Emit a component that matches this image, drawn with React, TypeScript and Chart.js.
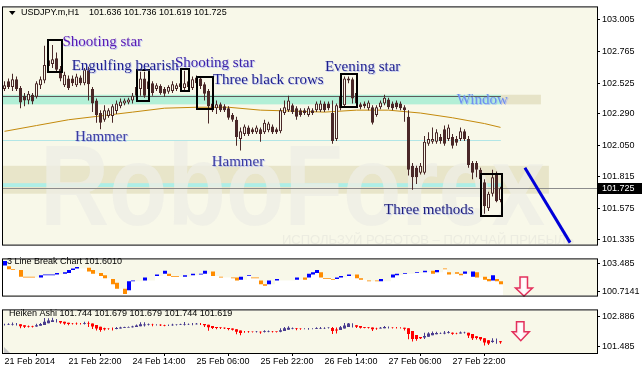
import React, { useEffect, useRef } from "react";
import { Chart, registerables } from "chart.js";

Chart.register(...registerables);

const SANS = "'Liberation Sans', Arial, sans-serif";
const SERIF = "'Liberation Serif', 'Times New Roman', serif";
const CREAM = "#f8f8e9";
const CANDLE = "#4a2828";
Chart.defaults.font.family = SANS;

const symbolTitle = "USDJPY.m,H1";
const ohlcTitle = "101.636 101.736 101.619 101.725";
const lbTitle = "3 Line Break Chart 101.6010";
const haTitle = "Heiken Ashi 101.744 101.679 101.679 101.744 101.619";

const opens = [102.480,102.538,102.494,102.553,102.487,102.429,102.392,102.436,102.421,102.509,102.545,102.655,102.669,102.713,102.633,102.509,102.560,102.560,102.509,102.567,102.523,102.626,102.480,102.392,102.297,102.246,102.275,102.275,102.312,102.348,102.370,102.377,102.392,102.429,102.480,102.560,102.538,102.523,102.480,102.502,102.480,102.458,102.465,102.480,102.494,102.487,102.538,102.487,102.567,102.560,102.516,102.465,102.370,102.334,102.363,102.348,102.334,102.283,102.246,102.100,102.137,102.188,102.173,102.151,102.173,102.151,102.166,102.195,102.173,102.158,102.297,102.319,102.356,102.334,102.319,102.319,102.283,102.319,102.319,102.319,102.370,102.370,102.297,102.100,102.334,102.356,102.545,102.553,102.450,102.363,102.370,102.334,102.341,102.283,102.341,102.370,102.399,102.370,102.377,102.370,102.341,102.268,101.896,101.881,101.844,101.844,102.064,102.078,102.078,102.115,102.173,102.100,102.115,102.100,102.100,102.158,102.100,101.917,101.917,101.866,101.771,101.574,101.684,101.837,101.636];
const highs = [102.538,102.560,102.596,102.575,102.502,102.450,102.465,102.450,102.538,102.575,102.808,102.794,102.815,102.757,102.655,102.611,102.582,102.582,102.596,102.582,102.640,102.648,102.494,102.407,102.319,102.356,102.334,102.363,102.392,102.407,102.407,102.414,102.450,102.509,102.611,102.611,102.553,102.538,102.523,102.516,102.494,102.509,102.538,102.523,102.538,102.618,102.553,102.575,102.582,102.575,102.531,102.480,102.392,102.392,102.377,102.363,102.348,102.297,102.268,102.188,102.210,102.202,102.188,102.202,102.188,102.246,102.231,102.210,102.188,102.334,102.392,102.429,102.370,102.348,102.334,102.334,102.348,102.334,102.385,102.392,102.385,102.385,102.392,102.370,102.443,102.575,102.575,102.567,102.465,102.377,102.385,102.392,102.356,102.356,102.392,102.436,102.414,102.385,102.392,102.385,102.356,102.319,101.917,101.896,101.917,102.122,102.151,102.188,102.173,102.137,102.202,102.210,102.137,102.122,102.188,102.173,102.122,101.932,101.932,101.881,101.793,101.698,101.866,101.852,101.736];
const lows = [102.465,102.480,102.465,102.465,102.334,102.348,102.363,102.363,102.407,102.480,102.523,102.640,102.640,102.604,102.538,102.494,102.472,102.502,102.494,102.509,102.509,102.392,102.304,102.224,102.173,102.231,102.261,102.224,102.290,102.334,102.356,102.363,102.370,102.407,102.429,102.414,102.465,102.429,102.465,102.436,102.421,102.443,102.450,102.465,102.480,102.465,102.480,102.472,102.509,102.480,102.392,102.217,102.304,102.290,102.304,102.304,102.246,102.231,102.049,102.012,102.122,102.122,102.137,102.137,102.078,102.137,102.151,102.137,102.137,102.144,102.283,102.304,102.290,102.246,102.268,102.283,102.268,102.283,102.304,102.304,102.304,102.319,102.064,102.085,102.319,102.341,102.523,102.370,102.348,102.326,102.334,102.319,102.210,102.268,102.326,102.356,102.326,102.319,102.326,102.319,102.231,101.823,101.713,101.757,101.830,101.830,102.049,102.064,102.064,102.064,102.049,102.085,102.027,102.049,102.085,102.085,101.881,101.793,101.808,101.757,101.531,101.553,101.662,101.618,101.619];
const closes = [102.509,102.494,102.553,102.480,102.377,102.392,102.443,102.385,102.523,102.553,102.662,102.699,102.706,102.626,102.560,102.589,102.487,102.523,102.575,102.523,102.626,102.516,102.370,102.283,102.224,102.319,102.319,102.348,102.370,102.385,102.392,102.399,102.429,102.494,102.560,102.429,102.480,102.450,102.509,102.450,102.443,102.494,102.516,102.509,102.523,102.523,102.494,102.553,102.523,102.502,102.443,102.348,102.319,102.363,102.319,102.319,102.261,102.246,102.115,102.158,102.195,102.137,102.151,102.188,102.137,102.224,102.217,102.151,102.151,102.319,102.341,102.392,102.304,102.268,102.283,102.297,102.334,102.297,102.370,102.370,102.319,102.334,102.085,102.356,102.429,102.560,102.560,102.407,102.370,102.341,102.348,102.377,102.224,102.341,102.377,102.414,102.341,102.334,102.341,102.334,102.319,101.866,101.808,101.808,101.896,102.078,102.100,102.100,102.151,102.085,102.064,102.188,102.049,102.071,102.158,102.100,101.903,101.844,101.866,101.793,101.589,101.684,101.808,101.626,101.725];

const maBars = [0, 8, 16, 24, 32, 40, 48, 56, 64, 72, 80, 88, 96, 104, 112, 120, 124];
const maValues = [102.158, 102.202, 102.246, 102.275, 102.304, 102.334, 102.341, 102.341, 102.319, 102.312, 102.304, 102.319, 102.319, 102.297, 102.261, 102.217, 102.188];

const trendBars = [130.1, 141.4];
const trendValues = [101.881, 101.312];

const priceTicks = [103.005, 102.765, 102.525, 102.29, 102.05, 101.815, 101.575, 101.335];
const lastPrice = 101.725;

const timeLabels = ["21 Feb 2014", "21 Feb 22:00", "24 Feb 14:00", "25 Feb 06:00", "25 Feb 22:00", "26 Feb 14:00", "27 Feb 06:00", "27 Feb 22:00"];
const timeLabelBars = [0, 16, 32, 48, 64, 80, 96, 112];

const lbOpen = [103.335,103.260,102.961,null,102.886,102.212,102.212,102.212,null,102.137,102.362,102.362,102.362,102.437,null,102.511,102.586,102.886,103.036,null,null,103.111,102.886,null,102.586,102.362,null,101.987,101.613,null,101.014,100.864,101.762,null,null,101.837,null,null,102.287,null,102.511,102.511,102.287,102.287,null,102.212,null,102.362,null,102.437,102.511,null,102.736,null,102.212,null,null,102.137,102.137,101.912,null,102.287,102.137,102.137,101.837,101.463,101.463,null,101.837,null,null,null,null,101.912,null,102.137,102.137,102.437,102.586,102.661,102.062,102.062,101.987,101.987,102.137,null,102.287,null,102.437,102.062,null,101.837,null,101.837,101.762,null,null,102.137,102.362,null,102.511,null,null,102.586,null,102.661,null,102.811,102.661,null,103.036,102.661,null,102.661,102.511,102.511,null,102.212,102.661,null,102.212,101.987,101.837,101.987,101.762];
const lbClose = [103.785,102.961,102.886,null,102.212,102.137,102.137,102.137,null,102.362,102.437,102.437,102.437,102.586,null,102.661,102.886,103.036,103.186,null,null,102.736,102.511,null,102.287,102.062,null,101.463,101.014,null,100.490,101.762,101.837,null,null,102.137,null,null,102.437,null,102.811,102.287,102.212,102.212,null,102.362,null,102.511,null,102.511,102.811,null,102.287,null,102.137,null,null,102.062,101.837,102.212,null,102.362,102.062,102.062,101.463,101.313,101.837,null,101.987,null,null,null,null,102.137,null,101.912,102.511,102.661,102.886,102.137,101.987,101.987,101.912,102.137,102.287,null,102.437,null,102.062,101.912,null,101.762,null,101.762,101.987,null,null,102.437,102.511,null,102.586,null,null,102.661,null,102.811,null,102.511,102.886,null,102.961,102.437,null,102.511,102.362,102.736,null,102.736,102.137,null,101.912,101.762,102.362,101.762,101.463];
const lbTicks = [103.485, 100.7141];
const lbTickLabels = ["103.485", "100.7141"];
const haTicks = [102.886, 101.485];
const haTickLabels = ["102.886", "101.485"];

const bands = [
  { from: null, to: 136.1, top: 101.896, bottom: 101.684, color: "#e8e5c9" },
  { from: 124.1, to: 134.1, top: 102.436, bottom: 102.363, color: "#e6e3c7" },
  { from: null, to: 124.1, top: 102.436, bottom: 102.363, color: "#b2efd6" },
  { from: null, to: 124.1, top: 101.764, bottom: 101.735, color: "#aeeee6" },
];
const levelLines = [
  { to: 124.1, price: 102.429, color: "#5c5c5c" },
  { to: 124.1, price: 102.093, color: "#b2e6e6" },
  { to: null, price: 101.725, color: "#8c8c8c" },
];
const patternBoxes = [
  { left: 10.95, right: 14.3, top: 102.854, bottom: 102.606 },
  { left: 33.05, right: 36.2, top: 102.623, bottom: 102.392 },
  { left: 44.05, right: 46.2, top: 102.628, bottom: 102.465 },
  { left: 48.05, right: 52.2, top: 102.571, bottom: 102.331 },
  { left: 84.05, right: 88.2, top: 102.591, bottom: 102.345 },
  { left: 119.05, right: 124.25, top: 101.837, bottom: 101.516 },
];
const patternLabels = [
  { text: "Shooting star", bar: 14.5, price: 102.808, color: "#5b1bb3" },
  { text: "Engulfing bearish", bar: 16.8, price: 102.623, color: "#1e1e8c" },
  { text: "Shooting star", bar: 42.6, price: 102.648, color: "#3c22a8" },
  { text: "Three black crows", bar: 52.1, price: 102.514, color: "#1e1e8c" },
  { text: "Evening star", bar: 80.1, price: 102.616, color: "#1e1e8c" },
  { text: "Hammer", bar: 17.6, price: 102.088, color: "#3a3aa0" },
  { text: "Hammer", bar: 51.8, price: 101.898, color: "#3a3aa0" },
  { text: "Window", bar: 113.05, price: 102.363, color: "#6d8ef0" },
  { text: "Three methods", bar: 94.9, price: 101.533, color: "#1e1e7a" },
];

const X_MIN = -0.375;
const X_MAX = 148.125;

function rightAxis(min: number, max: number, values: number[], labels: string[]) {
  return {
    type: "linear",
    position: "right",
    min,
    max,
    afterBuildTicks: (s: any) => {
      s.ticks = values.map((v) => ({ value: v }));
    },
    afterFit: (s: any) => {
      s.width = 45;
    },
    ticks: {
      autoSkip: false,
      callback: (_v: any, i: number) => labels[i],
      font: { family: SANS, size: 9 },
      color: "#000",
      padding: 2,
    },
    grid: { drawOnChartArea: false, drawTicks: true, tickLength: 3, color: "#000" },
    border: { display: false },
  };
}

function hiddenX() {
  return { type: "linear", min: X_MIN, max: X_MAX, offset: false, display: false };
}

function paintBackground(chart: any) {
  const { ctx, chartArea: a, width, height } = chart;
  ctx.save();
  ctx.fillStyle = "#ffffff";
  ctx.fillRect(0, 0, width, height);
  ctx.fillStyle = CREAM;
  ctx.fillRect(a.left, a.top, a.right - a.left, a.bottom - a.top);
  ctx.restore();
}

function paintFrame(chart: any) {
  const { ctx, chartArea: a } = chart;
  ctx.save();
  ctx.strokeStyle = "#000";
  ctx.lineWidth = 1;
  ctx.strokeRect(a.left - 0.5, a.top - 0.5, a.right - a.left + 1, a.bottom - a.top + 1);
  ctx.restore();
}

function downArrow(ctx: CanvasRenderingContext2D, sx0: number, sx1: number, sy0: number, hx0: number, hx1: number, hy0: number, hy1: number) {
  ctx.save();
  const g = ctx.createLinearGradient(hx0, 0, hx1, 0);
  g.addColorStop(0, "#ffd6de");
  g.addColorStop(0.5, "#ffffff");
  g.addColorStop(1, "#ffd6de");
  ctx.beginPath();
  ctx.moveTo(sx0, sy0);
  ctx.lineTo(sx1, sy0);
  ctx.lineTo(sx1, hy0);
  ctx.lineTo(hx1, hy0);
  ctx.lineTo((hx0 + hx1) / 2, hy1);
  ctx.lineTo(hx0, hy0);
  ctx.lineTo(sx0, hy0);
  ctx.closePath();
  ctx.fillStyle = g;
  ctx.fill();
  ctx.strokeStyle = "#e3305c";
  ctx.lineWidth = 1.5;
  ctx.stroke();
  ctx.restore();
}

const mainPlugin = {
  id: "mainDecor",
  beforeDraw: (chart: any) => paintBackground(chart),
  beforeDatasetsDraw: (chart: any) => {
    const { ctx, chartArea: a } = chart;
    const xs = chart.scales.x;
    const ys = chart.scales.y;
    ctx.save();
    ctx.beginPath();
    ctx.rect(a.left, a.top, a.right - a.left, a.bottom - a.top);
    ctx.clip();
    bands.forEach((b) => {
      const x0 = b.from === null ? a.left : xs.getPixelForValue(b.from);
      const x1 = b.to === null ? a.right : xs.getPixelForValue(b.to);
      const y0 = ys.getPixelForValue(b.top);
      const y1 = ys.getPixelForValue(b.bottom);
      ctx.fillStyle = b.color;
      ctx.fillRect(x0, y0, x1 - x0, y1 - y0);
    });
    // watermark
    ctx.save();
    ctx.font = `bold 115px ${SANS}`;
    const wm = "RoboForex";
    const mw = ctx.measureText(wm).width;
    ctx.translate(40, 225);
    ctx.scale(505 / mw, 1);
    ctx.fillStyle = "rgba(237,237,229,0.8)";
    ctx.fillText(wm, 0, 0);
    ctx.restore();
    ctx.font = `13px ${SANS}`;
    ctx.fillStyle = "rgba(232,232,222,0.75)";
    ctx.fillText("ИСПОЛЬЗУЙ РОБОТОВ – ПОЛУЧАЙ ПРИБЫЛЬ", 282, 244);
    levelLines.forEach((l) => {
      const x1 = l.to === null ? a.right : xs.getPixelForValue(l.to);
      const y = Math.round(ys.getPixelForValue(l.price)) + 0.5;
      ctx.strokeStyle = l.color;
      ctx.lineWidth = 1;
      ctx.beginPath();
      ctx.moveTo(a.left, y);
      ctx.lineTo(x1, y);
      ctx.stroke();
    });
    ctx.restore();
  },
  afterDatasetsDraw: (chart: any) => {
    const { ctx } = chart;
    const xs = chart.scales.x;
    const ys = chart.scales.y;
    ctx.save();
    ctx.strokeStyle = "#000";
    ctx.lineWidth = 2;
    patternBoxes.forEach((b) => {
      const x0 = Math.round(xs.getPixelForValue(b.left));
      const x1 = Math.round(xs.getPixelForValue(b.right));
      const y0 = Math.round(ys.getPixelForValue(b.top));
      const y1 = Math.round(ys.getPixelForValue(b.bottom));
      ctx.strokeRect(x0, y0, x1 - x0, y1 - y0);
    });
    ctx.font = `15px ${SERIF}`;
    ctx.textBaseline = "alphabetic";
    ctx.textAlign = "left";
    patternLabels.forEach((t) => {
      const x = xs.getPixelForValue(t.bar);
      const y = ys.getPixelForValue(t.price);
      ctx.fillStyle = "rgba(150,165,255,0.55)";
      ctx.fillText(t.text, x + 1, y + 1);
      ctx.fillStyle = t.color;
      ctx.fillText(t.text, x, y);
    });
    ctx.restore();
  },
  afterDraw: (chart: any) => {
    const { ctx, chartArea: a } = chart;
    const ys = chart.scales.y;
    paintFrame(chart);
    ctx.save();
    ctx.fillStyle = "#000";
    ctx.beginPath();
    ctx.moveTo(9, 11);
    ctx.lineTo(15.5, 11);
    ctx.lineTo(12.25, 15);
    ctx.closePath();
    ctx.fill();
    ctx.font = `9px ${SANS}`;
    ctx.textBaseline = "middle";
    ctx.fillText(symbolTitle, 21, 13);
    ctx.fillText(ohlcTitle, 89, 13);
    const py = Math.round(ys.getPixelForValue(lastPrice));
    ctx.fillStyle = "#000";
    ctx.fillRect(a.right + 1, py - 5, 45, 11);
    ctx.fillStyle = "#fff";
    ctx.fillText(lastPrice.toFixed(3), a.right + 5, py + 0.5);
    ctx.restore();
  },
};

const lbPlugin = {
  id: "lbDecor",
  beforeDraw: (chart: any) => paintBackground(chart),
  afterDatasetsDraw: (chart: any) => {
    const { ctx } = chart;
    ctx.save();
    ctx.font = `9px ${SANS}`;
    ctx.fillStyle = "#000";
    ctx.textBaseline = "middle";
    ctx.fillText(lbTitle, 7, 10);
    downArrow(ctx, 520, 527.5, 25, 515.5, 532.5, 36, 44);
    ctx.restore();
  },
  afterDraw: (chart: any) => paintFrame(chart),
};

const haPlugin = {
  id: "haDecor",
  beforeDraw: (chart: any) => paintBackground(chart),
  afterDatasetsDraw: (chart: any) => {
    const { ctx, chartArea: a } = chart;
    ctx.save();
    ctx.font = `9px ${SANS}`;
    ctx.fillStyle = "#000";
    ctx.textBaseline = "middle";
    ctx.fillText(haTitle, 9, 10.5);
    downArrow(ctx, 516.5, 524, 18.7, 512.3, 529.3, 28.7, 37.7);
    ctx.fillStyle = "#c8c8c8";
    ctx.beginPath();
    ctx.moveTo(a.left + 1, a.bottom - 6);
    ctx.lineTo(a.left + 1, a.bottom);
    ctx.lineTo(a.left + 7, a.bottom);
    ctx.closePath();
    ctx.fill();
    ctx.restore();
  },
  afterDraw: (chart: any) => paintFrame(chart),
};

const baseOptions = {
  responsive: false,
  animation: false,
  events: [],
  plugins: { legend: { display: false }, tooltip: { enabled: false } },
};

function makeMain(canvas: HTMLCanvasElement) {
  const idx = opens.map((_, i) => i);
  return new Chart(canvas, {
    type: "bar",
    data: {
      datasets: [
        {
          type: "line",
          data: maBars.map((b, k) => ({ x: b, y: maValues[k] })),
          borderColor: "#c48a0c",
          borderWidth: 1,
          pointRadius: 0,
          order: 5,
        },
        {
          type: "bar",
          data: idx.map((i) => ({ x: i, y: [lows[i], highs[i]] })),
          backgroundColor: CANDLE,
          barThickness: 1,
          grouped: false,
          inflateAmount: 0,
          order: 4,
        },
        {
          type: "bar",
          data: idx.map((i) => ({ x: i, y: [opens[i], closes[i]] })),
          backgroundColor: idx.map((i) => (closes[i] >= opens[i] ? CREAM : CANDLE)),
          borderColor: CANDLE,
          borderWidth: 1,
          borderSkipped: false,
          barThickness: 3,
          grouped: false,
          inflateAmount: 0,
          order: 3,
        },
        {
          type: "line",
          data: trendBars.map((b, k) => ({ x: b, y: trendValues[k] })),
          borderColor: "#0000d8",
          borderWidth: 3,
          pointRadius: 0,
          order: 1,
        },
      ],
    },
    options: {
      ...baseOptions,
      layout: { padding: { left: 3, top: 3, right: 0, bottom: 2 } },
      scales: {
        x: hiddenX(),
        y: rightAxis(101.297, 103.1, priceTicks, priceTicks.map((v) => v.toFixed(3))),
      },
    } as any,
    plugins: [mainPlugin],
  } as any);
}

function makeLB(canvas: HTMLCanvasElement) {
  const LB_MIN = 100.339;
  const levels: (number | null)[] = [];
  let last: number | null = null;
  lbOpen.forEach((o, i) => {
    const c = lbClose[i];
    if (o !== null && c !== null) last = Math.min(o, c);
    levels.push(last);
  });
  const idx = lbOpen.map((_, i) => i);
  return new Chart(canvas, {
    type: "bar",
    data: {
      datasets: [
        {
          data: idx.map((i) => ({ x: i + 0.125, y: levels[i] === null ? null : [LB_MIN, levels[i]] })),
          backgroundColor: "#ffffff",
          barThickness: 4,
          grouped: false,
          inflateAmount: 0,
          order: 3,
        },
        {
          data: idx.map((i) => ({ x: i + 0.125, y: lbOpen[i] === null ? null : [lbOpen[i], lbClose[i]] })),
          backgroundColor: idx.map((i) => ((lbClose[i] ?? 0) > (lbOpen[i] ?? 0) ? "#0000ff" : "#ff8c00")),
          barThickness: 4,
          grouped: false,
          inflateAmount: 0,
          order: 2,
        },
      ],
    },
    options: {
      ...baseOptions,
      layout: { padding: { left: 3, top: 2, right: 0, bottom: 1 } },
      scales: {
        x: hiddenX(),
        y: rightAxis(LB_MIN, 103.934, lbTicks, lbTickLabels),
      },
    } as any,
    plugins: [lbPlugin],
  } as any);
}

function makeHA(canvas: HTMLCanvasElement) {
  const haO: number[] = [];
  const haC: number[] = [];
  const haH: number[] = [];
  const haL: number[] = [];
  for (let i = 0; i < opens.length; i++) {
    const c = (opens[i] + highs[i] + lows[i] + closes[i]) / 4;
    const o = i === 0 ? (opens[0] + closes[0]) / 2 : (haO[i - 1] + haC[i - 1]) / 2;
    haO.push(o);
    haC.push(c);
    haH.push(Math.max(highs[i], o, c));
    haL.push(Math.min(lows[i], o, c));
  }
  const idx = opens.map((_, i) => i);
  const colors = idx.map((i) => (haC[i] >= haO[i] ? "#4a3d8f" : "#ff0000"));
  return new Chart(canvas, {
    type: "bar",
    data: {
      datasets: [
        {
          data: idx.map((i) => ({ x: i, y: [haL[i], haH[i]] })),
          backgroundColor: colors,
          barThickness: 1,
          grouped: false,
          inflateAmount: 0,
          order: 3,
        },
        {
          data: idx.map((i) => ({ x: i, y: [haO[i], haC[i]] })),
          backgroundColor: colors,
          barThickness: 3,
          grouped: false,
          inflateAmount: 0,
          order: 2,
        },
      ],
    },
    options: {
      ...baseOptions,
      layout: { padding: { left: 3, top: 2, right: 0, bottom: 0 } },
      scales: {
        x: {
          type: "linear",
          min: X_MIN,
          max: X_MAX,
          offset: false,
          position: "bottom",
          afterBuildTicks: (s: any) => {
            s.ticks = timeLabelBars.map((v) => ({ value: v }));
          },
          afterFit: (s: any) => {
            s.height = 19;
          },
          ticks: {
            autoSkip: false,
            maxRotation: 0,
            minRotation: 0,
            align: "start",
            callback: (_v: any, i: number) => timeLabels[i],
            font: { family: SANS, size: 9 },
            color: "#000",
            padding: 0,
          },
          grid: { drawOnChartArea: false, drawTicks: true, tickLength: 3, color: "#000" },
          border: { display: false },
        },
        y: rightAxis(101.184, 103.162, haTicks, haTickLabels),
      },
    } as any,
    plugins: [haPlugin],
  } as any);
}

export default function App() {
  const mainRef = useRef<HTMLCanvasElement>(null);
  const lbRef = useRef<HTMLCanvasElement>(null);
  const haRef = useRef<HTMLCanvasElement>(null);
  useEffect(() => {
    document.body.style.margin = "0";
    const charts = [makeMain(mainRef.current!), makeLB(lbRef.current!), makeHA(haRef.current!)];
    return () => charts.forEach((c) => c.destroy());
  }, []);
  return (
    <div style={{ position: "fixed", left: 0, top: 0, width: 642, height: 372, background: "#fff", overflow: "hidden" }}>
      <canvas ref={mainRef} width={642} height={252} style={{ position: "absolute", left: 0, top: 0 }} />
      <canvas ref={lbRef} width={642} height={51} style={{ position: "absolute", left: 0, top: 252 }} />
      <canvas ref={haRef} width={642} height={69} style={{ position: "absolute", left: 0, top: 303 }} />
    </div>
  );
}
